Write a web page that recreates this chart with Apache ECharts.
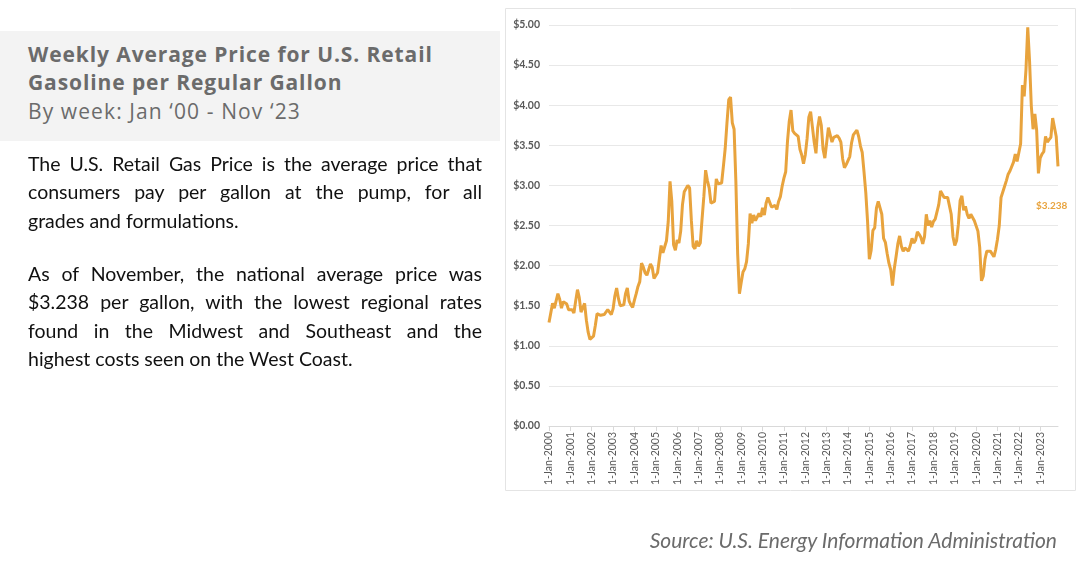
<!DOCTYPE html>
<html>
<head>
<meta charset="utf-8">
<script src="https://cdn.jsdelivr.net/npm/echarts@6/dist/echarts.min.js"></script>
<style>
  body { margin: 0; background: #fff; }
  #page { position: relative; width: 1088px; height: 571px; overflow: hidden; }
  #chart { position: absolute; left: 0; top: 0; width: 1088px; height: 571px; }
  .head { position: absolute; left: 0; top: 31px; width: 500px; height: 110px; background: #f3f3f3; }
  .title { position: absolute; left: 28px; font-family: "Open Sans", sans-serif; color: #6b6b6b; white-space: nowrap; }
  .t1 { font-weight: 700; font-size: 21px; letter-spacing: 0.9px; }
  .t2 { font-weight: 400; font-size: 21px; letter-spacing: 1.1px; }
  .para { position: absolute; left: 28px; width: 454px; font-family: Lato, sans-serif; font-size: 19.5px; line-height: 28.3px; color: #111; }
  .para div { text-align: justify; text-align-last: justify; }
  .para div.last { text-align-last: left; }
  .source { position: absolute; right: 31px; top: 527px; font-family: Lato, sans-serif; font-style: italic; font-size: 21px; color: #6b6b6b; }
</style>
</head>
<body>
<div id="page">
  <div id="chart"></div>
  <div class="head"></div>
  <div class="title t1" style="top:40px">Weekly Average Price for U.S. Retail</div>
  <div class="title t1" style="top:68px">Gasoline per Regular Gallon</div>
  <div class="title t2" style="top:97px">By week: Jan ‘00 - Nov ‘23</div>
  <div class="para" style="top:150px">
    <div>The U.S. Retail Gas Price is the average price that</div>
    <div>consumers pay per gallon at the pump, for all</div>
    <div class="last">grades and formulations.</div>
  </div>
  <div class="para" style="top:260px">
    <div>As of November, the national average price was</div>
    <div>$3.238 per gallon, with the lowest regional rates</div>
    <div>found in the Midwest and Southeast and the</div>
    <div class="last">highest costs seen on the West Coast.</div>
  </div>
  <div class="source">Source: U.S. Energy Information Administration</div>
</div>
<script>
var years = [2000, 2001, 2002, 2003, 2004, 2005, 2006, 2007, 2008, 2009, 2010, 2011,
             2012, 2013, 2014, 2015, 2016, 2017, 2018, 2019, 2020, 2021, 2022, 2023];
var months = ['Jan', 'Feb', 'Mar', 'Apr', 'May', 'Jun', 'Jul', 'Aug', 'Sep', 'Oct', 'Nov', 'Dec'];
var lastMonth = 11; // data runs to Nov 2023

// $/gallon, one row per year (Jan..Dec)
var prices = [
  1.29, 1.41, 1.53, 1.47, 1.49, 1.65, 1.58, 1.47, 1.55, 1.53, 1.52, 1.45,
  1.45, 1.45, 1.41, 1.56, 1.70, 1.60, 1.42, 1.42, 1.53, 1.32, 1.17, 1.08,
  1.10, 1.12, 1.25, 1.40, 1.39, 1.38, 1.39, 1.39, 1.40, 1.45, 1.42, 1.39,
  1.46, 1.62, 1.72, 1.59, 1.50, 1.49, 1.51, 1.65, 1.72, 1.56, 1.51, 1.48,
  1.57, 1.65, 1.74, 1.80, 2.03, 1.98, 1.91, 1.88, 1.87, 2.02, 1.98, 1.84,
  1.83, 1.91, 2.08, 2.25, 2.16, 2.16, 2.31, 2.55, 3.05, 2.80, 2.26, 2.19,
  2.32, 2.28, 2.43, 2.76, 2.92, 2.90, 3.00, 2.97, 2.56, 2.24, 2.21, 2.31,
  2.24, 2.28, 2.58, 2.86, 3.19, 3.06, 2.97, 2.78, 2.80, 2.80, 3.08, 3.02,
  3.04, 3.03, 3.24, 3.46, 3.78, 4.07, 4.10, 3.78, 3.70, 3.05, 2.15, 1.65,
  1.79, 1.92, 1.96, 2.05, 2.27, 2.65, 2.53, 2.63, 2.56, 2.55, 2.65, 2.61,
  2.72, 2.63, 2.78, 2.85, 2.84, 2.73, 2.74, 2.75, 2.70, 2.80, 2.86, 2.99,
  3.09, 3.17, 3.55, 3.80, 3.94, 3.68, 3.65, 3.64, 3.61, 3.45, 3.38, 3.27,
  3.38, 3.58, 3.85, 3.92, 3.73, 3.54, 3.40, 3.72, 3.86, 3.75, 3.45, 3.34,
  3.32, 3.72, 3.70, 3.54, 3.60, 3.62, 3.62, 3.59, 3.54, 3.33, 3.22, 3.26,
  3.31, 3.36, 3.53, 3.63, 3.65, 3.69, 3.61, 3.49, 3.41, 3.17, 2.91, 2.55,
  2.08, 2.19, 2.44, 2.47, 2.72, 2.80, 2.79, 2.64, 2.34, 2.29, 2.15, 2.03,
  1.95, 1.75, 1.96, 2.11, 2.27, 2.37, 2.24, 2.18, 2.22, 2.24, 2.18, 2.25,
  2.34, 2.28, 2.32, 2.42, 2.39, 2.35, 2.27, 2.36, 2.64, 2.50, 2.56, 2.48,
  2.55, 2.58, 2.60, 2.76, 2.93, 2.89, 2.85, 2.85, 2.85, 2.87, 2.64, 2.36,
  2.25, 2.31, 2.51, 2.81, 2.87, 2.69, 2.74, 2.64, 2.59, 2.64, 2.60, 2.56,
  2.55, 2.43, 2.23, 1.81, 1.87, 2.08, 2.18, 2.18, 2.18, 2.16, 2.11, 2.20,
  2.33, 2.50, 2.85, 2.86, 2.99, 3.06, 3.14, 3.18, 3.17, 3.29, 3.39, 3.30,
  3.31, 3.52, 4.25, 4.11, 4.44, 4.97, 4.56, 3.99, 3.70, 3.89, 3.69, 3.15,
  3.34, 3.39, 3.42, 3.61, 3.54, 3.57, 3.60, 3.84, 3.85, 3.61, 3.238
];

var categories = [];
years.forEach(function (y, yi) {
  var n = (yi === years.length - 1) ? lastMonth : 12;
  for (var m = 0; m < n; m++) categories.push('1-' + months[m] + '-' + y);
});

var chart = echarts.init(document.getElementById('chart'));

var yearStart = function (idx) { return idx % 12 === 0; };

chart.setOption({
  animation: false,
  grid: { left: 549, right: 30, top: 25, bottom: 145 },
  graphic: [{
    type: 'rect',
    shape: { x: 505.5, y: 8.5, width: 570, height: 482 },
    style: { fill: 'none', stroke: '#e4e4e4', lineWidth: 1 },
    z: -1
  }],
  xAxis: {
    type: 'category',
    data: categories,
    boundaryGap: false,
    axisLine: { lineStyle: { color: '#d9d9d9', width: 1 } },
    axisTick: { show: true, interval: yearStart, length: 5, lineStyle: { color: '#d9d9d9' } },
    axisLabel: {
      interval: yearStart,
      rotate: 90,
      margin: 6,
      fontFamily: 'Lato, sans-serif',
      fontSize: 10.5,
      color: '#595959'
    },
    splitLine: { show: false }
  },
  yAxis: {
    type: 'value',
    min: 0,
    max: 5,
    interval: 0.5,
    axisLine: { show: false },
    axisTick: { show: false },
    axisLabel: {
      margin: 9,
      fontFamily: 'Lato, sans-serif',
      fontSize: 10.5,
      fontWeight: 'bold',
      color: '#595959',
      formatter: function (v) { return '$' + v.toFixed(2); }
    },
    splitLine: { lineStyle: { color: '#e8e8e8', width: 1.2 } }
  },
  series: [{
    type: 'line',
    data: prices,
    showSymbol: false,
    lineStyle: { color: '#e8a33d', width: 3 },
    itemStyle: { color: '#e8a33d' },
    endLabel: {
      show: true,
      formatter: function (p) { return '$' + p.value.toFixed(3); },
      color: '#e8a33d',
      fontFamily: 'Lato, sans-serif',
      fontSize: 10,
      fontWeight: 'bold',
      offset: [-30, 39]
    }
  }]
});
</script>
</body>
</html>
